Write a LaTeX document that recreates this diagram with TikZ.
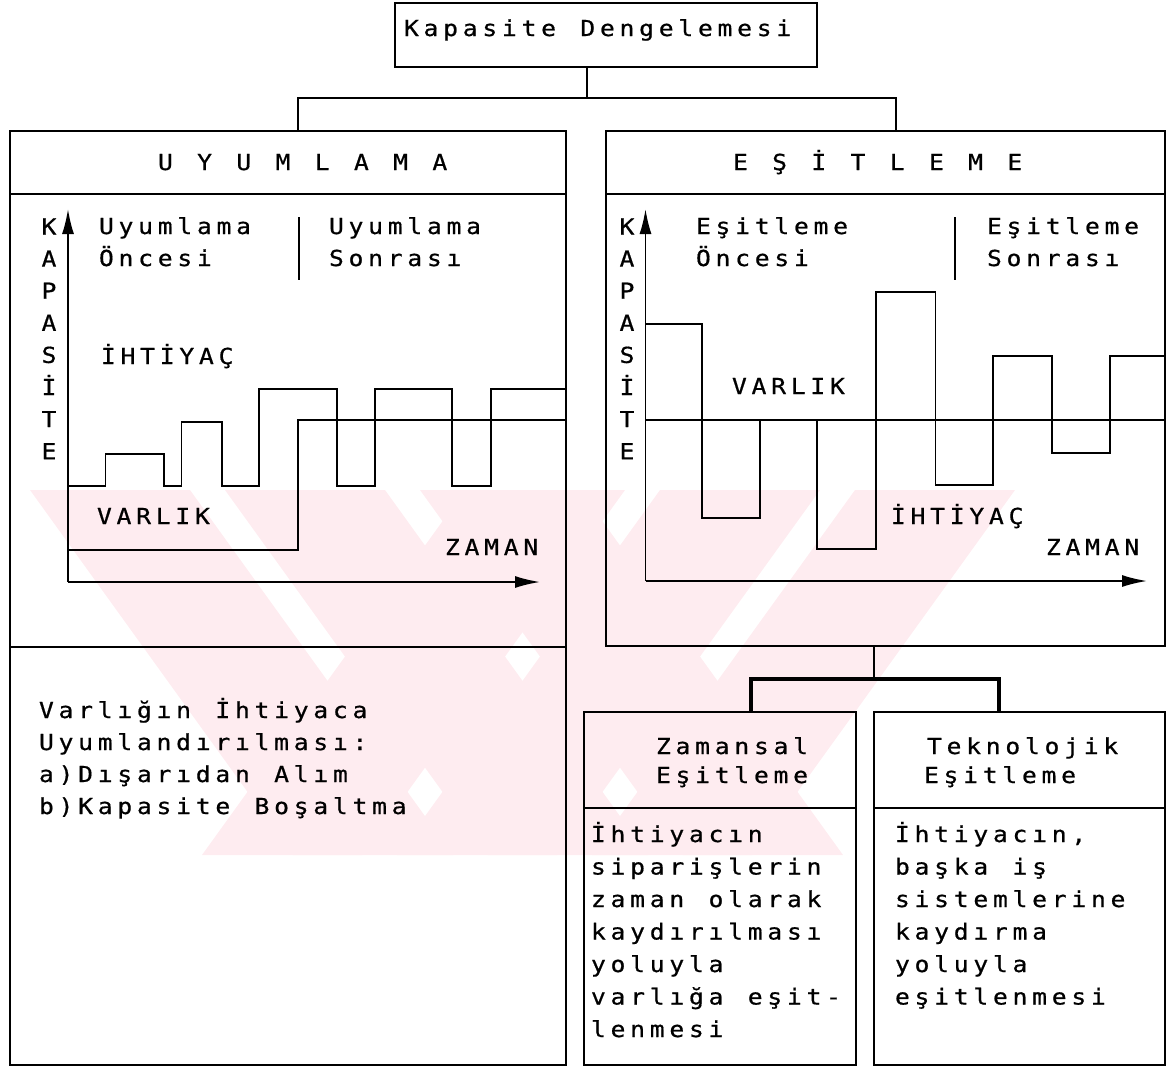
\documentclass[tikz,border=0pt]{standalone}
\usepackage{fontspec}
\usetikzlibrary{arrows.meta,calc}
\newfontfamily\dmfont[FakeStretch=1.12,FakeBold=0.7]{DejaVu Sans Mono}
\definecolor{wmpink}{RGB}{254,236,240}
% fixed character cell, like a dot-matrix printer
\newlength\cw
\setlength\cw{19.6pt}
\ExplSyntaxOn
\NewDocumentCommand\dm{m}{\str_map_inline:nn{#1}{\hbox_to_wd:nn{\cw}{##1\hfil}}}
\ExplSyntaxOff
\begin{document}
\begin{tikzpicture}[x=1pt,y=-1pt,
  frame/.style={draw, line width=1.8pt, inner sep=0pt, outer sep=0pt, anchor=north west},
  rule/.style={line width=1.8pt},
  txt/.style={inner sep=0pt, outer sep=0pt, anchor=base west, font=\dmfont\fontsize{22}{22}\selectfont},
  vlet/.style={inner sep=0pt, outer sep=0pt, anchor=base, font=\dmfont\fontsize{22}{22}\selectfont},
  axisarrow/.style={line width=1.8pt, -{Latex[length=25pt,width=12pt]}},
  curve/.style={line width=1.8pt, line join=miter},
  link/.style={line width=1.8pt},
  boldlink/.style={line width=3.6pt},
  band/.style={fill=wmpink, draw=none}]
\useasboundingbox (0,0) rectangle (1167,1069);

% ---- pale striped background mark (two crossing groups of broad stripes) ----
\begin{scope}
  \clip (30,490) rectangle (1050,855);
  \foreach \a in {30,225,420}
    \fill[band] (\a,490) -- ({\a+160},490) -- ({\a+423},855) -- ({\a+263},855) -- cycle;
  \foreach \b in {1015,820,625}
    \fill[band] (\b,490) -- ({\b-160},490) -- ({\b-423},855) -- ({\b-263},855) -- cycle;
\end{scope}

% ---- boxes ----
\node[frame, minimum width=422pt, minimum height=64pt] (top) at (395,3) {};
\node[frame, minimum width=556pt, minimum height=934pt] (uyum) at (10,131) {};
\node[frame, minimum width=559pt, minimum height=515pt] (esit) at (606,131) {};
\node[frame, minimum width=272pt, minimum height=353pt] (zam) at (584,712) {};
\node[frame, minimum width=291pt, minimum height=353pt] (tek) at (874,712) {};

% inner separators
\draw[rule] ($(uyum.north west)+(0,63)$) -- ($(uyum.north east)+(0,63)$);
\draw[rule] ($(uyum.north west)+(0,516)$) -- ($(uyum.north east)+(0,516)$);
\draw[rule] ($(esit.north west)+(0,63)$) -- ($(esit.north east)+(0,63)$);
\draw[rule] ($(zam.north west)+(0,96)$) -- ($(zam.north east)+(0,96)$);
\draw[rule] ($(tek.north west)+(0,96)$) -- ($(tek.north east)+(0,96)$);

% ---- connectors ----
\coordinate (tdrop) at ($(top.south)+(-19,0)$);
\coordinate (hub) at ($(tdrop)+(0,31)$);
\coordinate (uyumin) at ($(uyum.north west)+(288,0)$);
\coordinate (esitin) at ($(esit.north west)+(290,0)$);
\draw[link] (tdrop) -- (hub);
\draw[link] (uyumin) |- (hub) -| (esitin);

\coordinate (edrop) at ($(esit.south west)+(268,0)$);
\coordinate (hub2) at ($(edrop)+(0,33)$);
\coordinate (zamin) at ($(zam.north west)+(167,0)$);
\coordinate (tekin) at ($(tek.north west)+(125,0)$);
\draw[link] (edrop) -- (hub2);
\draw[boldlink] (zamin) |- (hub2) -| (tekin);

% ---- titles ----
\node[txt] (title) at (404,36) {\dm{Kapasite Dengelemesi}};
\node[txt] (hu) at (158,170) {\dm{U Y U M L A M A}};
\node[txt] (he) at (733,170) {\dm{E Ş İ T L E M E}};

% ---- left chart ----
\foreach \c [count=\i] in {K,A,P,A,S,İ,T,E}
  \node[vlet] (lk\i) at (49,{234.5+32.1*(\i-1)}) {\c};
\coordinate (lo) at (68,582);
\draw[axisarrow] (lo) -- (68,209);
\draw[axisarrow] (lo) -- (540,582);
\draw[rule] (299,217) -- (299,280);
\draw[curve] (68,486) -| (105.5,454) -| (164,486) -| (181.5,422) -| (222,486)
  -| (259,389) -| (337,486) -| (375,389) -| (452,486) -| (491,389) -- (566,389);
\draw[curve] (68,550) -| (298,420) -- (566,420);
\node[txt] (lpre1) at (99,234) {\dm{Uyumlama}};
\node[txt] (lpre2) at (99,266) {\dm{Öncesi}};
\node[txt] (lpost1) at (329,234) {\dm{Uyumlama}};
\node[txt] (lpost2) at (329,266) {\dm{Sonrası}};
\node[txt] (lneed) at (101,364) {\dm{İHTİYAÇ}};
\node[txt] (lhave) at (97,524) {\dm{VARLIK}};
\node[txt] (ltime) at (445,555) {\dm{ZAMAN}};

% ---- right chart ----
\foreach \c [count=\i] in {K,A,P,A,S,İ,T,E}
  \node[vlet] (rk\i) at (627,{234.5+32.1*(\i-1)}) {\c};
\coordinate (ro) at (645.5,581);
\draw[axisarrow] (ro) -- (645.5,209);
\draw[axisarrow] (ro) -- (1147,581);
\draw[rule] (955,217) -- (955,280);
\draw[curve] (645.5,420) -- (1165,420);
\draw[curve] (645.5,324) -| (702,518) -| (760,420);
\draw[curve] (817,420) |- (876,549) |- (935.5,292) |- (993,485) |- (1052,356)
  |- (1110,453) |- (1165,356);
\node[txt] (rpre1) at (696,234) {\dm{Eşitleme}};
\node[txt] (rpre2) at (696,266) {\dm{Öncesi}};
\node[txt] (rpost1) at (987,234) {\dm{Eşitleme}};
\node[txt] (rpost2) at (987,266) {\dm{Sonrası}};
\node[txt] (rhave) at (732,394) {\dm{VARLIK}};
\node[txt] (rneed) at (891,524) {\dm{İHTİYAÇ}};
\node[txt] (rtime) at (1046,555) {\dm{ZAMAN}};

% ---- lower left text ----
\node[txt] (u1) at (39,718) {\dm{Varlığın İhtiyaca}};
\node[txt] (u2) at (39,750) {\dm{Uyumlandırılması:}};
\node[txt] (u3) at (39,782) {\dm{a)Dışarıdan Alım}};
\node[txt] (u4) at (39,814) {\dm{b)Kapasite Boşaltma}};

% ---- lower right boxes ----
\node[txt] (zt1) at (656,754) {\dm{Zamansal}};
\node[txt] (zt2) at (656,783) {\dm{Eşitleme}};
\node[txt] (tt1) at (927,754) {\dm{Teknolojik}};
\node[txt] (tt2) at (924,783) {\dm{Eşitleme}};

\node[txt] (z1) at (591,842) {\dm{İhtiyacın}};
\node[txt] (z2) at (591,874.5) {\dm{siparişlerin}};
\node[txt] (z3) at (591,907) {\dm{zaman olarak}};
\node[txt] (z4) at (591,939.5) {\dm{kaydırılması}};
\node[txt] (z5) at (591,972) {\dm{yoluyla}};
\node[txt] (z6) at (591,1004.5) {\dm{varlığa eşit-}};
\node[txt] (z7) at (591,1037) {\dm{lenmesi}};

\node[txt] (k1) at (895,842) {\dm{İhtiyacın,}};
\node[txt] (k2) at (895,874.5) {\dm{başka iş}};
\node[txt] (k3) at (895,907) {\dm{sistemlerine}};
\node[txt] (k4) at (895,939.5) {\dm{kaydırma}};
\node[txt] (k5) at (895,972) {\dm{yoluyla}};
\node[txt] (k6) at (895,1004.5) {\dm{eşitlenmesi}};
\end{tikzpicture}
\end{document}
